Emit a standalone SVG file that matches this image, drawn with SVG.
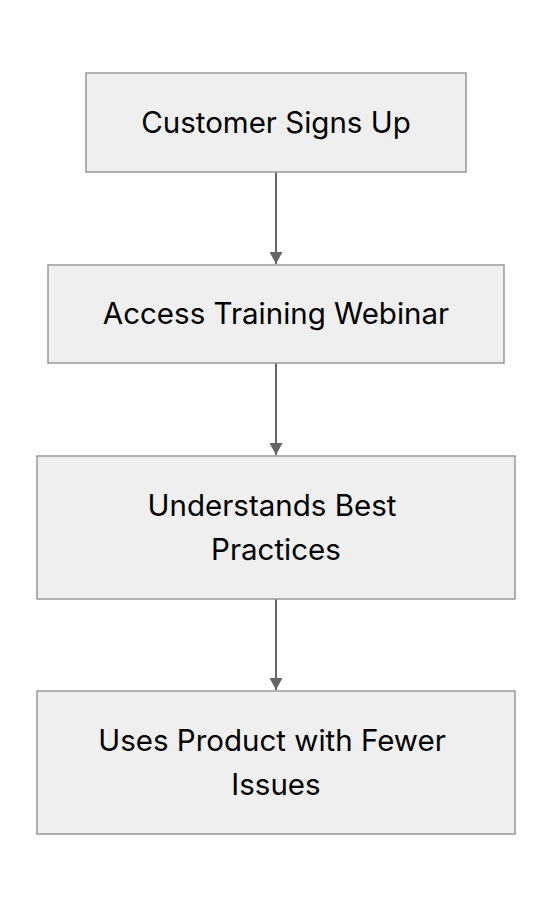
<svg xmlns="http://www.w3.org/2000/svg" width="552" height="908" viewBox="0 0 552 908">
<style>
.box{fill:#efefef;stroke:#999;stroke-width:1.5}
.t{font-family:Inter,"Noto Sans",sans-serif;font-size:29.5px;fill:#000;text-anchor:middle}
.e{stroke:#666;stroke-width:2;fill:none}
</style>
<defs>
<marker id="ah" markerWidth="12" markerHeight="13" refX="10" refY="5" orient="auto" markerUnits="userSpaceOnUse" viewBox="0 0 10 10" preserveAspectRatio="none">
<path d="M0,0 L10,5 L0,10 z" fill="#666"/>
</marker>
</defs>
<rect width="552" height="908" fill="#fff"/>
<g id="edges">
<line class="e" x1="276" y1="172" x2="276" y2="264" marker-end="url(#ah)"/>
<line class="e" x1="276" y1="363" x2="276" y2="455" marker-end="url(#ah)"/>
<line class="e" x1="276" y1="599" x2="276" y2="690" marker-end="url(#ah)"/>
</g>
<g id="n1">
<rect class="box" x="86" y="73" width="380" height="99"/>
<text class="t" x="276" y="133">Customer Signs Up</text>
</g>
<g id="n2">
<rect class="box" x="48" y="265" width="456" height="98"/>
<text class="t" x="276" y="324">Access Training Webinar</text>
</g>
<g id="n3">
<rect class="box" x="37" y="456" width="478" height="143"/>
<text class="t" x="272" y="516">Understands Best</text>
<text class="t" x="276" y="560">Practices</text>
</g>
<g id="n4">
<rect class="box" x="37" y="691" width="478" height="143"/>
<text class="t" x="272" y="751">Uses Product with Fewer</text>
<text class="t" x="276" y="795">Issues</text>
</g>
</svg>
